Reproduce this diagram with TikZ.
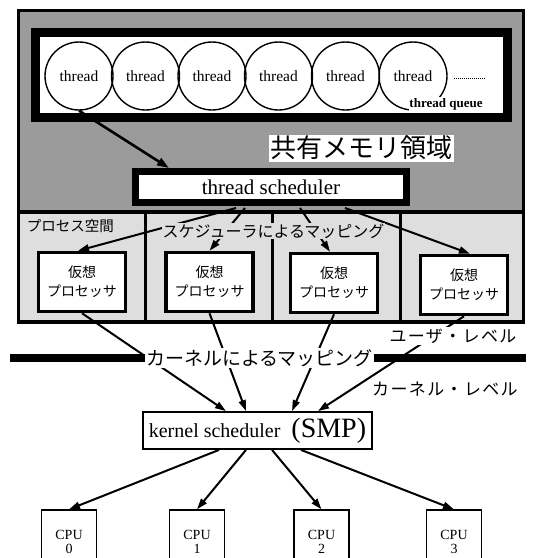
\documentclass[tikz,border=0pt]{standalone}
\usepackage{fontspec}
\setmainfont{Liberation Serif}
\newfontfamily\jp{Noto Sans CJK JP}
\newfontfamily\jpw[LetterSpace=8]{Noto Sans CJK JP}
\usetikzlibrary{arrows.meta}
\definecolor{darkfill}{RGB}{155,155,155}
\definecolor{lightfill}{RGB}{222,222,222}
\begin{document}
\begin{tikzpicture}[x=1pt,y=-1pt,
  thr/.style={circle, draw, line width=1.4, minimum size=68, inner sep=0, font=\fontsize{15.5}{15.5}\selectfont},
  vpbox/.style={draw, line width=3.5, fill=white, minimum width=87, minimum height=59, inner sep=0, align=center, font=\jp\fontsize{14}{19}\selectfont},
  cpubox/.style={draw, line width=1.3, fill=white, minimum width=55, minimum height=64, inner sep=0, align=center, font=\fontsize{14}{14.5}\selectfont},
  bigarr/.style={line width=2.6, -{Triangle[length=12,width=8]}},
  midarr/.style={line width=2, -{Triangle[length=11,width=7]}},
  lab/.style={inner sep=1.5, font=\jpw\fontsize{17}{17}\selectfont}
]
\clip (0,0) rectangle (536,558);
\fill[white] (0,0) rectangle (536,558);
% regions
\fill[darkfill] (18,10) rectangle (523,212);
\fill[lightfill] (18,212) rectangle (523,323);
\draw[line width=3] (18,323) -- (18,10) -- (523,10) -- (523,323);
\draw[line width=3.5] (18,212) -- (523,212);
\draw[line width=3.5] (16.5,322) -- (524.5,322);
\draw[line width=3] (145,212) -- (145,322);
\draw[line width=3] (272,212) -- (272,322);
\draw[line width=3] (400,212) -- (400,322);

% thread queue
\node[draw, line width=9, fill=white, minimum width=472, minimum height=85, inner sep=0] (tq) at (271.5,75) {};
\foreach \i/\xx in {1/79,2/145.5,3/212,4/278.5,5/345.5,6/413}
  \node[thr] (c\i) at (\xx,76) {thread};
\draw[line width=1, dash pattern=on 1pt off 1pt] (454,78) -- (486,78);
\node[fill=white, inner sep=0.8, font=\bfseries\fontsize{13}{13}\selectfont] (tql) at (446,104) {thread queue};

% shared memory label
\node[fill=white, inner sep=1.5, font=\jp\fontsize{26}{26}\selectfont] (shm) at (361.5,148) {共有メモリ領域};

% thread scheduler
\node[draw, line width=7, fill=white, minimum width=271, minimum height=31, inner sep=0, font=\fontsize{21}{21}\selectfont] (ts) at (271,187) {thread scheduler};
\draw[bigarr] (c1.south) -- ([xshift=-102pt]ts.north);

% virtual processors
\node[vpbox] (vp1) at (82,282) {仮想\\プロセッサ};
\node[vpbox] (vp2) at (209.5,282) {仮想\\プロセッサ};
\node[vpbox] (vp3) at (334,283) {仮想\\プロセッサ};
\node[vpbox] (vp4) at (464,285) {仮想\\プロセッサ};

\draw[midarr] ([xshift=-35pt,yshift=-2pt]ts.south) -- ([xshift=-4pt]vp1.north);
\draw[midarr] ([xshift=-26pt,yshift=-2pt]ts.south) -- (vp2.north);
\draw[midarr] ([xshift=29pt,yshift=-2pt]ts.south) -- ([xshift=-4pt]vp3.north);
\draw[midarr] ([xshift=74pt,yshift=-2pt]ts.south) -- ([xshift=6pt]vp4.north);

\node[fill=lightfill, inner sep=1, font=\jp\fontsize{16}{16}\selectfont] (smap) at (273.5,231) {スケジューラによるマッピング};
\node[inner sep=0, font=\jp\fontsize{14.5}{14.5}\selectfont] (pspace) at (70.5,226) {プロセス空間};

% kernel scheduler
\node[draw, line width=1.8, minimum width=229, minimum height=37, inner sep=0] (ks) at (257.5,430.5)
  {\fontsize{20}{20}\selectfont kernel scheduler\hspace{11pt}\fontsize{28}{28}\selectfont(SMP)};

% bar + kernel mapping lines
\draw[line width=8] (10,357.5) -- (526,357.5);
\draw[midarr] (vp1.south) -- ([xshift=-31.5pt]ks.north);
\draw[midarr] (vp2.south) -- ([xshift=-11.5pt]ks.north);
\draw[midarr] (vp3.south) -- ([xshift=34.5pt]ks.north);
\draw[midarr] (vp4.south) -- ([xshift=60.5pt]ks.north);

\node[fill=white, inner sep=1, font=\jp\fontsize{19}{19}\selectfont] (kmap) at (259.5,358) {カーネルによるマッピング};
\node[lab, fill=white] (ulev) at (453,336) {ユーザ・レベル};
\node[lab] (klev) at (445,389) {カーネル・レベル};

% CPUs
\node[cpubox] (cpu0) at (69,542) {CPU\\0};
\node[cpubox] (cpu1) at (197,542) {CPU\\1};
\node[cpubox] (cpu2) at (321.5,542) {CPU\\2};
\node[cpubox] (cpu3) at (454,542) {CPU\\3};

\draw[midarr] ([xshift=-38.5pt]ks.south) -- (cpu0.north);
\draw[midarr] ([xshift=-11.5pt]ks.south) -- (cpu1.north);
\draw[midarr] ([xshift=14.5pt]ks.south) -- (cpu2.north);
\draw[midarr] ([xshift=43.5pt]ks.south) -- (cpu3.north);
\end{tikzpicture}
\end{document}
